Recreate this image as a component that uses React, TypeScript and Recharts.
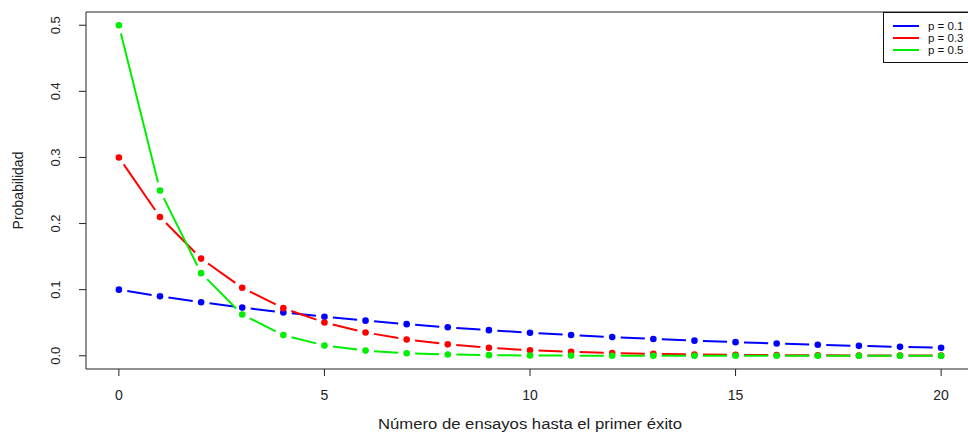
import React from "react";
import { LineChart, Line, XAxis, YAxis, ReferenceLine } from "recharts";

// number of trials before first success (k)
const trials = [0, 1, 2, 3, 4, 5, 6, 7, 8, 9, 10, 11, 12, 13, 14, 15, 16, 17, 18, 19, 20];

// geometric probabilities
const probP01 = [
  0.1, 0.09, 0.081, 0.0729, 0.06561, 0.05905, 0.05314, 0.04783, 0.04305, 0.03874,
  0.03487, 0.03138, 0.02824, 0.02542, 0.02288, 0.02059, 0.01853, 0.01668, 0.01501,
  0.01351, 0.01216,
];
const probP03 = [
  0.3, 0.21, 0.147, 0.1029, 0.07203, 0.05042, 0.03529, 0.02471, 0.01729, 0.01211,
  0.00847, 0.00593, 0.00415, 0.00291, 0.00203, 0.00142, 0.001, 0.0007, 0.00049,
  0.00034, 0.00024,
];
const probP05 = [
  0.5, 0.25, 0.125, 0.0625, 0.03125, 0.01563, 0.00781, 0.00391, 0.00195, 0.00098,
  0.00049, 0.00024, 0.00012, 0.00006, 0.00003, 0.00002, 0.00001, 0, 0, 0, 0,
];

const xTicks = [0, 5, 10, 15, 20];
const yTicks = [0, 0.1, 0.2, 0.3, 0.4, 0.5];

const series = [
  { key: "p01", label: "p = 0.1", color: "#0000ff" },
  { key: "p03", label: "p = 0.3", color: "#ff0000" },
  { key: "p05", label: "p = 0.5", color: "#00ee00" },
];

const data = trials.map((k, i) => ({
  k,
  p01: probP01[i],
  p03: probP03[i],
  p05: probP05[i],
}));

const FONT = "'Liberation Sans', Arial, sans-serif";
const GAP = 8.5;

// R type="b": points joined by segments that stop short of each point
const makeDot = (color: string) => (props: any) => {
  const { cx, cy, index, points } = props;
  const next = points ? points[index + 1] : null;
  let seg = null;
  if (next) {
    const dx = next.x - cx;
    const dy = next.y - cy;
    const len = Math.hypot(dx, dy);
    if (len > GAP * 2 + 1) {
      seg = (
        <line
          x1={cx + (dx / len) * GAP}
          y1={cy + (dy / len) * GAP}
          x2={next.x - (dx / len) * GAP}
          y2={next.y - (dy / len) * GAP}
          stroke={color}
          strokeWidth={2}
        />
      );
    }
  }
  return (
    <g key={`dot-${color}-${index}`}>
      {seg}
      <circle cx={cx} cy={cy} r={3.3} fill={color} />
    </g>
  );
};

const XTick = ({ x, y, payload }: any) => (
  <text
    x={x}
    y={y}
    dy={22}
    textAnchor="middle"
    fontSize={14}
    fontFamily={FONT}
    fill="#222"
  >
    {payload.value}
  </text>
);

const YTick = ({ x, y, payload }: any) => (
  <text
    transform={`translate(${x - 17}, ${y}) rotate(-90)`}
    textAnchor="middle"
    fontSize={13}
    fontFamily={FONT}
    fill="#222"
  >
    {Number(payload.value).toFixed(1)}
  </text>
);

// legend box, sitting on the plot's top-right corner like R's legend("topright")
const LegendBox = () => (
  <div
    style={{
      position: "absolute",
      left: 883,
      top: 12,
      width: 100,
      height: 51,
      paddingTop: 7,
      border: "1px solid #111",
      background: "#fff",
      boxSizing: "border-box",
      fontFamily: FONT,
      fontSize: 11.5,
      color: "#111",
    }}
  >
    {series.map((s) => (
      <div key={s.key} style={{ display: "flex", alignItems: "center", height: 12, lineHeight: "12px" }}>
        <div style={{ width: 26, height: 2, background: s.color, marginLeft: 9, marginRight: 9 }} />
        <span>{s.label}</span>
      </div>
    ))}
  </div>
);

export default function App() {
  return (
    <div
      style={{
        position: "absolute",
        left: 0,
        top: 0,
        width: 968,
        height: 432,
        overflow: "hidden",
        background: "#fff",
      }}
    >
      <LineChart
        width={976}
        height={432}
        data={data}
        margin={{ top: 12, right: 2, left: 0, bottom: 0 }}
      >
        <XAxis
          dataKey="k"
          type="number"
          domain={[-0.8, 20.8]}
          ticks={xTicks}
          allowDataOverflow
          height={63}
          tickSize={7}
          tickLine={{ stroke: "#222" }}
          axisLine={{ stroke: "#222" }}
          tick={<XTick />}
          label={{
            content: ({ viewBox }: any) => (
              <text
                x={viewBox.x + viewBox.width / 2}
                y={viewBox.y + 60}
                textAnchor="middle"
                fontSize={14}
                fontFamily={FONT}
                fill="#222"
                textLength={304}
                lengthAdjust="spacingAndGlyphs"
              >
                Número de ensayos hasta el primer éxito
              </text>
            ),
          }}
        />
        <YAxis
          type="number"
          domain={[-0.02, 0.52]}
          ticks={yTicks}
          allowDataOverflow
          width={86}
          tickSize={7}
          tickLine={{ stroke: "#222" }}
          axisLine={{ stroke: "#222" }}
          tick={<YTick />}
          label={{
            content: ({ viewBox }: any) => (
              <text
                transform={`translate(${viewBox.x + 23}, ${viewBox.y + viewBox.height / 2}) rotate(-90)`}
                textAnchor="middle"
                fontSize={14}
                fontFamily={FONT}
                fill="#222"
              >
                Probabilidad
              </text>
            ),
          }}
        />
        <ReferenceLine y={0.52} stroke="#222" ifOverflow="visible" />
        {series.map((s) => (
          <Line
            key={s.key}
            dataKey={s.key}
            type="linear"
            stroke="none"
            strokeWidth={0}
            dot={makeDot(s.color)}
            activeDot={false}
            isAnimationActive={false}
          />
        ))}
      </LineChart>
      <LegendBox />
    </div>
  );
}
